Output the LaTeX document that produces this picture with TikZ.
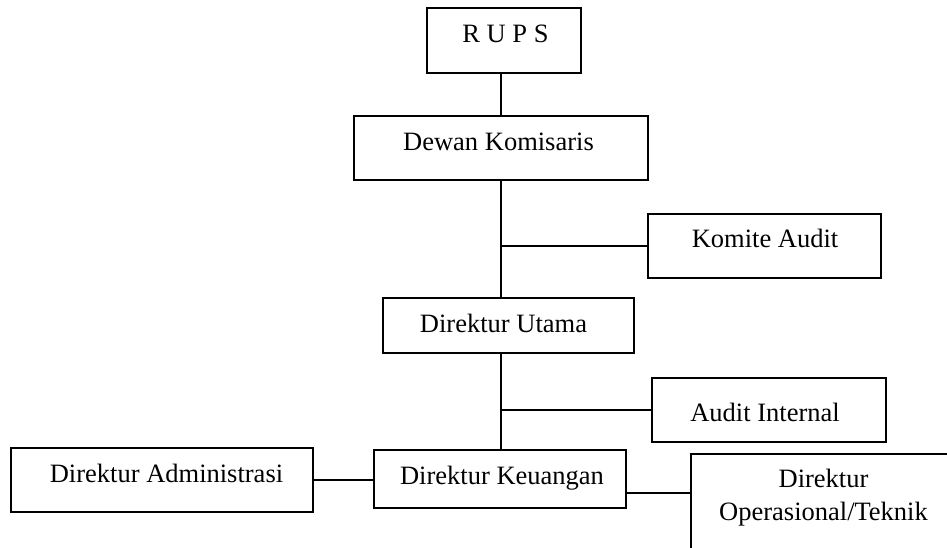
\documentclass[tikz,border=0pt]{standalone}
\usepackage{fontspec}
\setmainfont{Liberation Serif}
\begin{document}
\begin{tikzpicture}[x=1pt,y=-1pt,
  box/.style={draw,line width=1.6pt,inner sep=0pt,anchor=north west},
  lbl/.style={anchor=base,inner sep=0pt,font=\fontsize{26.5}{33}\selectfont},
  link/.style={line width=1.6pt}]
  \useasboundingbox (0,0) rectangle (947,547);
  \clip (0,0) rectangle (947,547);
  \coordinate (spine) at (501,0);

  % boxes
  \node[box,minimum width=154pt,minimum height=65pt] (rups) at (426,7) {};
  \node[box,minimum width=294pt,minimum height=64pt] (dk) at (353,115) {};
  \node[box,minimum width=233pt,minimum height=64pt] (ka) at (647,213) {};
  \node[box,minimum width=251pt,minimum height=55pt] (du) at (382,297) {};
  \node[box,minimum width=234pt,minimum height=64pt] (ai) at (651,377) {};
  \node[box,minimum width=302pt,minimum height=64pt] (da) at (10,447) {};
  \node[box,minimum width=252pt,minimum height=58pt] (dku) at (373,449) {};
  \node[box,minimum width=280pt,minimum height=120pt] (dot) at (690,453) {};

  % labels
  \node[lbl] (trups) at (505.5,42) {R U P S};
  \node[lbl] (tdk) at (498.5,150) {Dewan Komisaris};
  \node[lbl] (tka) at (765,247) {Komite Audit};
  \node[lbl] (tdu) at (503.5,332) {Direktur Utama};
  \node[lbl] (tai) at (765,421) {Audit Internal};
  \node[lbl] (tda) at (166.5,482) {Direktur Administrasi};
  \node[lbl] (tdku) at (502,484) {Direktur Keuangan};
  \node[lbl] (tdot1) at (823.5,487) {Direktur};
  \node[lbl] (tdot2) at (823.5,520) {Operasional/Teknik};

  % connectors
  \draw[link] (rups.south -| spine) -- (dk.north -| spine);
  \draw[link] (dk.south -| spine) -- (du.north -| spine);
  \draw[link] (du.south -| spine) -- (dku.north -| spine);
  \draw[link] (ka.west -| spine) -- (ka.west);
  \draw[link] (ai.west -| spine) -- (ai.west);
  \draw[link] (da.east) -- (da.east -| dku.west);
  \draw[link] (dku.east) ++(0,14) coordinate (k1) -- (k1 -| dot.west);
\end{tikzpicture}
\end{document}
